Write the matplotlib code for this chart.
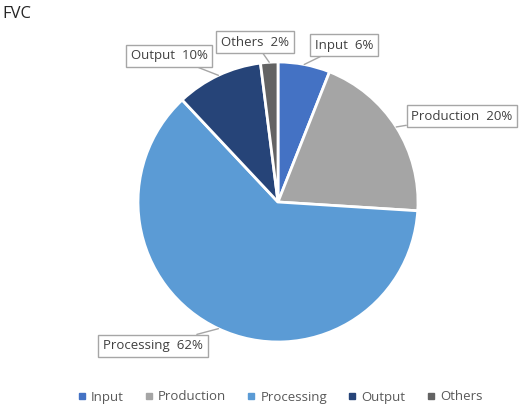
import numpy as np
import matplotlib.pyplot as plt

# Pie data
categories = ['Input', 'Production', 'Processing', 'Output', 'Others']
shares = [6, 20, 62, 10, 2]
colors = ['#4472C4', '#A5A5A5', '#5B9BD5', '#264478', '#636363']

# label box centres in figure pixels (from top-left of the image)
label_pos = [(344, 45), (462, 116), (153, 346), (169, 56), (255, 42)]

W, H = 520, 407
plt.rcParams['font.family'] = ['Open Sans', 'DejaVu Sans']

fig = plt.figure(figsize=(W / 100, H / 100), dpi=100)

# pie centre ~ (278, 202), radius ~140 px
cx, cy, r = 278, 202, 140
ax = fig.add_axes([(cx - r) / W, (H - cy - r) / H, 2 * r / W, 2 * r / H])
wedges, _ = ax.pie(shares, colors=colors, startangle=90, counterclock=False,
                   radius=1, wedgeprops=dict(edgecolor='white', linewidth=2))
ax.set_xlim(-1, 1)
ax.set_ylim(-1, 1)
ax.set_aspect('equal')
ax.axis('off')

for w, name, val, (lx, ly) in zip(wedges, categories, shares, label_pos):
    ang = np.deg2rad((w.theta1 + w.theta2) / 2)
    ax.annotate(f'{name}  {val}%', xy=(np.cos(ang), np.sin(ang)),
                xytext=(lx, H - ly), textcoords='figure pixels',
                ha='center', va='center', fontsize=9.5, color='#404040',
                bbox=dict(boxstyle='square,pad=0.35', fc='white', ec='#A6A6A6', lw=1),
                arrowprops=dict(arrowstyle='-', color='#A6A6A6', lw=1,
                                shrinkA=0, shrinkB=0))

fig.text(2 / W, 1 - 14 / H, 'FVC', fontsize=12, color='#262626', ha='left', va='center')

handles = [plt.Line2D([], [], marker='s', linestyle='', markersize=5, color=c) for c in colors]
fig.legend(handles, categories, loc='center', bbox_to_anchor=(280 / W, 1 - 397 / H),
           ncol=5, frameon=False, fontsize=9.5, handlelength=0.6, handletextpad=0.4,
           columnspacing=1.6, labelcolor='#595959')

fig.savefig('out.png', dpi=100)
